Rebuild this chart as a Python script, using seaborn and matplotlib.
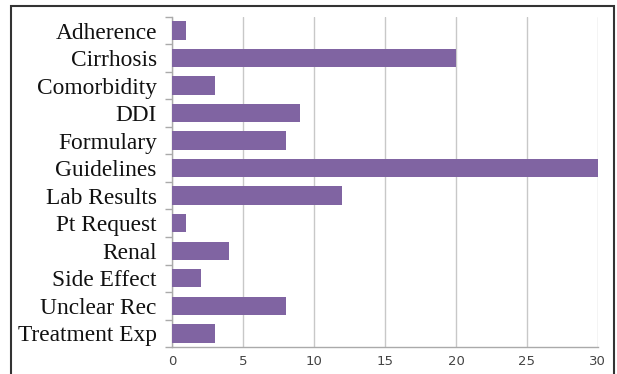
import matplotlib
matplotlib.use("Agg")
import matplotlib.pyplot as plt
import seaborn as sns
import pandas as pd
from matplotlib.patches import Rectangle

categories = ["Adherence", "Cirrhosis", "Comorbidity", "DDI", "Formulary", "Guidelines",
              "Lab Results", "Pt Request", "Renal", "Side Effect", "Unclear Rec", "Treatment Exp"]
counts = [1, 20, 3, 9, 8, 30, 12, 1, 4, 2, 8, 3]
x_ticks = [0, 5, 10, 15, 20, 25, 30]

df = pd.DataFrame({"category": categories, "count": counts})

sns.set_theme(style="white")
fig = plt.figure(figsize=(6.17, 3.74), dpi=100)
ax = fig.add_axes([0.279, 0.072, 0.690, 0.883])

sns.barplot(data=df, y="category", x="count", color="#8064A2", saturation=1,
            width=0.67, orient="h", ax=ax, zorder=3, linewidth=0)

ax.set_xlim(0, 30)
ax.set_ylim(len(categories) - 0.5, -0.5)
ax.set_xticks(x_ticks)
ax.set_xticklabels([str(t) for t in x_ticks], fontsize=9.5, color="#444444")
ax.set_xlabel("")
ax.set_ylabel("")
ax.xaxis.grid(True, color="#c8c8c8", linewidth=1, zorder=0)
ax.yaxis.grid(False)
for lab in ax.get_yticklabels():
    lab.set_fontfamily("Liberation Serif")
    lab.set_fontsize(16.8)
    lab.set_color("#111111")

ax.tick_params(axis="y", which="major", length=0, pad=11)
ax.tick_params(axis="x", which="major", length=0, pad=6)
ax.set_yticks([i + 0.5 for i in range(-1, len(categories))], minor=True)
ax.tick_params(axis="y", which="minor", length=5, color="#aaaaaa", width=1, direction="out", left=True)

for s in ["top", "right"]:
    ax.spines[s].set_visible(False)
for s in ["left", "bottom"]:
    ax.spines[s].set_color("#aaaaaa")
    ax.spines[s].set_linewidth(1)

# figure frame
fig.patches.append(Rectangle((11 / 617, -0.05), (614 - 11) / 617, 1 - 6 / 374 + 0.05,
                             transform=fig.transFigure, fill=False,
                             edgecolor="#333333", linewidth=1.5))

fig.savefig("out.png", dpi=100)
